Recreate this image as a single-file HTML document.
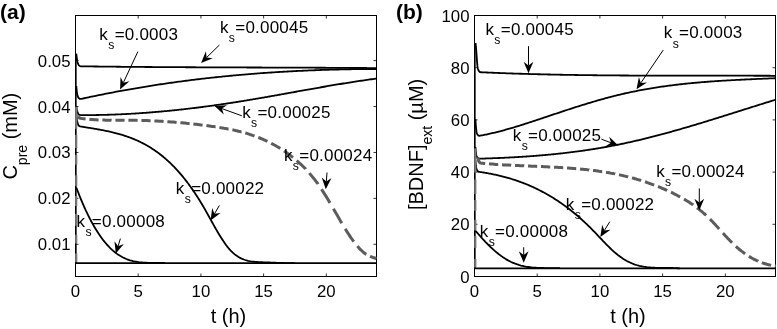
<!DOCTYPE html>
<html><head><meta charset="utf-8"><style>
html,body{margin:0;padding:0;background:#fff;}
body{width:777px;height:329px;overflow:hidden;}
svg{display:block;font-family:"Liberation Sans",sans-serif;will-change:transform;}
</style></head><body>
<svg width="777" height="329" viewBox="0 0 777 329">
<rect x="75.5" y="15.5" width="301.0" height="261.0" fill="none" stroke="#000" stroke-width="1"/>
<path d="M138.21,276.5v-3M138.21,15.5v3" stroke="#000" stroke-width="0.8"/>
<path d="M200.92,276.5v-3M200.92,15.5v3" stroke="#000" stroke-width="0.8"/>
<path d="M263.62,276.5v-3M263.62,15.5v3" stroke="#000" stroke-width="0.8"/>
<path d="M326.33,276.5v-3M326.33,15.5v3" stroke="#000" stroke-width="0.8"/>
<text x="75.50" y="296.5" font-size="16.8" text-anchor="middle">0</text>
<text x="138.21" y="296.5" font-size="16.8" text-anchor="middle">5</text>
<text x="200.92" y="296.5" font-size="16.8" text-anchor="middle">10</text>
<text x="263.62" y="296.5" font-size="16.8" text-anchor="middle">15</text>
<text x="326.33" y="296.5" font-size="16.8" text-anchor="middle">20</text>
<path d="M75.5,60.60h3M376.5,60.60h-3" stroke="#000" stroke-width="0.8"/>
<text x="70.5" y="66.60" font-size="16.8" text-anchor="end">0.05</text>
<path d="M75.5,106.53h3M376.5,106.53h-3" stroke="#000" stroke-width="0.8"/>
<text x="70.5" y="112.53" font-size="16.8" text-anchor="end">0.04</text>
<path d="M75.5,152.46h3M376.5,152.46h-3" stroke="#000" stroke-width="0.8"/>
<text x="70.5" y="158.46" font-size="16.8" text-anchor="end">0.03</text>
<path d="M75.5,198.39h3M376.5,198.39h-3" stroke="#000" stroke-width="0.8"/>
<text x="70.5" y="204.39" font-size="16.8" text-anchor="end">0.02</text>
<path d="M75.5,244.32h3M376.5,244.32h-3" stroke="#000" stroke-width="0.8"/>
<text x="70.5" y="250.32" font-size="16.8" text-anchor="end">0.01</text>
<line x1="76.1" y1="263" x2="76.1" y2="54" stroke="#000" stroke-width="1.1"/>
<path d="M76.30,53.70L76.43,54.89L76.56,56.07L76.68,57.07L76.83,58.22L76.98,59.33L77.13,60.45L77.32,61.52L77.60,62.66L77.96,63.69L78.43,64.72L79.05,65.57L79.92,66.07L81.00,66.31L82.50,66.33L84.00,66.35L85.50,66.37L87.00,66.39L88.50,66.41L90.00,66.43L91.50,66.45L93.00,66.47L94.50,66.48L96.00,66.50L97.50,66.52L99.00,66.54L100.50,66.56L102.00,66.57L103.50,66.59L105.00,66.61L106.50,66.62L108.00,66.64L109.50,66.66L111.00,66.67L112.50,66.69L114.00,66.70L115.50,66.72L117.00,66.73L118.50,66.75L120.00,66.76L121.50,66.78L123.00,66.79L124.50,66.80L126.00,66.82L127.50,66.83L129.00,66.85L130.50,66.86L132.00,66.87L133.50,66.88L135.00,66.90L136.50,66.91L138.00,66.92L139.50,66.93L141.00,66.95L142.50,66.96L144.00,66.97L145.50,66.98L147.00,66.99L148.50,67.00L150.00,67.01L151.50,67.02L153.00,67.03L154.50,67.04L156.00,67.05L157.50,67.06L159.00,67.07L160.50,67.08L162.00,67.09L163.50,67.10L165.00,67.11L166.50,67.12L168.00,67.13L169.50,67.14L171.00,67.15L172.50,67.16L174.00,67.17L175.50,67.17L177.00,67.18L178.50,67.19L180.00,67.20L181.50,67.21L183.00,67.21L184.50,67.22L186.00,67.23L187.50,67.24L189.00,67.25L190.50,67.25L192.00,67.26L193.50,67.27L195.00,67.27L196.50,67.28L198.00,67.29L199.50,67.29L201.00,67.30L202.50,67.31L204.00,67.31L205.50,67.32L207.00,67.33L208.50,67.33L210.00,67.34L211.50,67.34L213.00,67.35L214.50,67.36L216.00,67.36L217.50,67.37L219.00,67.37L220.50,67.38L222.00,67.39L223.50,67.39L225.00,67.40L226.50,67.40L228.00,67.41L229.50,67.41L231.00,67.42L232.50,67.42L234.00,67.43L235.50,67.43L237.00,67.44L238.50,67.44L240.00,67.45L241.50,67.46L243.00,67.46L244.50,67.47L246.00,67.47L247.50,67.48L249.00,67.48L250.50,67.49L252.00,67.49L253.50,67.50L255.00,67.50L256.50,67.51L257.50,67.51L258.49,67.51L259.49,67.52L260.49,67.52L261.49,67.52L262.49,67.53L263.49,67.53L264.49,67.53L265.49,67.54L266.49,67.54L267.49,67.54L268.49,67.55L269.49,67.55L270.49,67.55L271.49,67.56L272.49,67.56L273.49,67.56L274.49,67.57L275.49,67.57L276.49,67.57L277.49,67.58L278.49,67.58L279.49,67.58L280.49,67.59L281.49,67.59L282.49,67.59L283.49,67.60L284.49,67.60L285.49,67.61L286.49,67.61L287.49,67.61L288.49,67.62L289.49,67.62L290.49,67.62L291.49,67.63L292.49,67.63L293.49,67.63L294.49,67.64L295.49,67.64L296.49,67.65L297.49,67.65L298.49,67.65L299.49,67.66L300.49,67.66L301.49,67.67L302.49,67.67L303.49,67.67L304.49,67.68L305.49,67.68L306.49,67.69L307.49,67.69L308.49,67.70L309.49,67.70L310.49,67.70L311.49,67.71L312.49,67.71L313.49,67.72L314.49,67.72L315.49,67.73L316.49,67.73L317.49,67.73L318.49,67.74L319.49,67.74L320.49,67.75L321.49,67.75L322.49,67.76L323.49,67.76L324.49,67.77L325.49,67.77L326.49,67.78L327.49,67.78L328.49,67.79L329.49,67.79L330.49,67.80L331.49,67.80L332.49,67.81L333.49,67.81L334.49,67.82L335.49,67.82L336.49,67.83L337.49,67.84L338.49,67.84L339.49,67.85L340.49,67.85L341.49,67.86L342.49,67.86L343.49,67.87L344.49,67.88L345.49,67.88L346.49,67.89L347.49,67.89L348.49,67.90L349.49,67.91L350.49,67.91L351.49,67.92L352.49,67.93L353.49,67.93L354.49,67.94L355.49,67.95L356.49,67.95L357.49,67.96L358.49,67.97L359.49,67.97L360.49,67.98L361.49,67.99L362.49,67.99L363.49,68.00L364.49,68.01L365.49,68.01L366.49,68.02L367.49,68.03L368.49,68.04L369.49,68.04L370.49,68.05L371.49,68.06L372.49,68.07L373.49,68.08L374.49,68.08L375.49,68.09L376.49,68.10L376.50,68.10" fill="none" stroke="#000" stroke-width="1.8" stroke-linejoin="round"/>
<path d="M76.30,86.00L76.41,87.32L76.51,88.42L76.61,89.63L76.73,90.86L76.86,92.02L77.05,93.28L77.24,94.37L77.46,95.36L77.76,96.44L78.20,97.50L78.95,98.34L79.90,98.88L81.28,98.89L82.74,98.57L84.21,98.25L85.67,97.93L87.14,97.62L88.61,97.31L90.07,96.99L91.54,96.68L93.01,96.38L94.48,96.07L95.95,95.77L97.42,95.47L98.89,95.17L100.36,94.87L101.83,94.57L103.30,94.28L104.77,93.99L106.24,93.70L107.71,93.41L109.19,93.12L110.66,92.84L112.13,92.55L113.60,92.27L115.08,91.99L116.55,91.72L118.03,91.44L119.50,91.17L120.98,90.90L122.45,90.63L123.93,90.36L125.40,90.09L126.88,89.83L128.36,89.57L129.83,89.31L131.31,89.05L132.79,88.79L134.27,88.53L135.75,88.28L137.22,88.03L138.70,87.78L140.18,87.53L141.66,87.29L143.14,87.04L144.62,86.80L146.10,86.56L147.58,86.32L149.07,86.08L150.55,85.85L152.03,85.61L153.51,85.38L154.99,85.15L156.48,84.93L157.96,84.70L159.44,84.48L160.92,84.25L162.41,84.03L163.89,83.81L165.38,83.60L166.86,83.38L168.34,83.17L169.83,82.95L171.32,82.74L172.80,82.54L174.29,82.33L175.77,82.12L177.26,81.92L178.74,81.72L180.23,81.52L181.72,81.32L183.20,81.12L184.69,80.93L186.18,80.74L187.67,80.55L189.16,80.36L190.64,80.17L192.13,79.98L193.62,79.80L195.11,79.62L196.60,79.44L198.09,79.26L199.58,79.08L201.07,78.90L202.56,78.73L204.05,78.56L205.54,78.39L207.03,78.22L208.52,78.05L210.01,77.88L211.50,77.72L212.99,77.56L214.48,77.40L215.97,77.24L217.47,77.08L218.96,76.93L220.45,76.77L221.94,76.62L223.43,76.47L224.93,76.32L226.42,76.17L227.91,76.03L229.41,75.88L230.90,75.74L232.39,75.60L233.89,75.46L235.38,75.32L236.87,75.18L238.37,75.05L239.86,74.92L241.35,74.79L242.85,74.66L244.34,74.53L245.84,74.40L247.33,74.28L248.83,74.15L250.32,74.03L251.82,73.91L253.31,73.79L254.81,73.68L256.30,73.56L257.80,73.45L259.30,73.33L260.79,73.22L262.29,73.11L263.78,73.01L265.28,72.90L266.78,72.79L268.27,72.69L269.77,72.59L271.27,72.49L272.76,72.39L274.26,72.29L275.76,72.20L277.25,72.10L278.75,72.01L280.25,71.92L281.74,71.83L283.24,71.74L284.74,71.65L286.24,71.57L287.73,71.49L289.23,71.40L290.73,71.32L292.23,71.24L293.73,71.17L295.22,71.09L296.72,71.01L298.22,70.94L299.72,70.87L301.22,70.80L302.72,70.73L304.21,70.66L305.71,70.59L307.21,70.53L308.71,70.47L310.21,70.40L311.71,70.34L313.21,70.28L314.70,70.23L316.20,70.17L317.70,70.11L319.20,70.06L320.70,70.01L322.20,69.96L323.70,69.91L325.20,69.86L326.70,69.81L328.20,69.77L329.70,69.72L331.20,69.68L332.70,69.64L334.19,69.60L335.69,69.56L337.19,69.52L338.69,69.48L340.19,69.45L341.69,69.42L343.19,69.38L344.69,69.35L346.19,69.32L347.69,69.30L349.19,69.27L350.69,69.24L352.19,69.22L353.69,69.20L355.19,69.17L356.69,69.15L358.19,69.13L359.69,69.12L361.19,69.10L362.69,69.08L364.19,69.07L365.69,69.06L367.19,69.04L368.69,69.03L370.19,69.02L371.69,69.02L373.19,69.01L374.69,69.00L376.19,69.00L376.50,69.00" fill="none" stroke="#000" stroke-width="1.8" stroke-linejoin="round"/>
<path d="M76.30,106.00L76.49,107.19L76.67,108.30L76.87,109.47L77.09,110.55L77.37,111.60L77.71,112.69L78.18,113.74L78.90,114.54L79.87,114.92L81.10,115.10L82.60,115.11L84.10,115.11L85.60,115.11L86.60,115.11L87.60,115.10L88.60,115.10L89.60,115.09L90.60,115.09L91.60,115.08L92.60,115.07L93.60,115.06L94.60,115.04L95.60,115.03L96.60,115.02L97.60,115.00L98.60,114.98L99.60,114.96L100.60,114.94L101.60,114.92L102.60,114.90L103.60,114.88L104.60,114.85L105.60,114.83L106.60,114.80L107.60,114.77L108.60,114.74L109.60,114.71L110.60,114.68L111.59,114.64L112.59,114.61L113.59,114.57L114.59,114.54L115.59,114.50L116.59,114.46L117.59,114.42L118.59,114.38L119.59,114.33L120.59,114.29L121.59,114.24L122.59,114.20L123.58,114.15L124.58,114.10L125.58,114.05L126.58,114.00L127.58,113.94L128.58,113.89L129.58,113.84L130.57,113.78L131.57,113.72L132.57,113.66L133.57,113.60L134.57,113.54L135.57,113.48L136.56,113.42L137.56,113.36L138.56,113.29L139.56,113.22L140.56,113.16L141.55,113.09L142.55,113.02L143.55,112.95L144.55,112.88L145.54,112.80L146.54,112.73L147.54,112.66L148.53,112.58L149.53,112.50L150.53,112.42L151.53,112.34L152.52,112.26L153.52,112.18L154.52,112.10L155.51,112.02L156.51,111.93L157.51,111.85L158.50,111.76L159.50,111.67L160.49,111.58L161.49,111.49L162.49,111.40L163.48,111.31L164.48,111.22L165.47,111.13L166.47,111.03L167.46,110.94L168.46,110.84L169.45,110.74L170.45,110.64L171.44,110.54L172.44,110.44L173.43,110.34L174.43,110.24L175.42,110.13L176.42,110.03L177.41,109.92L178.41,109.82L179.40,109.71L180.40,109.60L181.39,109.49L182.38,109.38L183.38,109.27L184.37,109.16L185.36,109.05L186.36,108.93L187.35,108.82L188.34,108.70L189.34,108.58L190.33,108.47L191.32,108.35L192.32,108.23L193.31,108.11L194.30,107.99L195.29,107.87L196.29,107.74L197.28,107.62L198.27,107.49L199.26,107.37L200.26,107.24L201.25,107.11L202.24,106.99L203.23,106.86L204.22,106.73L205.21,106.60L206.21,106.46L207.20,106.33L208.19,106.20L209.18,106.06L210.17,105.93L211.16,105.79L212.15,105.66L213.14,105.52L214.13,105.38L215.12,105.24L216.11,105.10L217.10,104.96L218.09,104.82L219.08,104.68L220.07,104.53L221.06,104.39L222.05,104.25L223.04,104.10L224.03,103.95L225.02,103.81L226.01,103.66L227.00,103.51L227.99,103.36L228.97,103.21L229.96,103.06L230.95,102.91L231.94,102.76L232.93,102.60L233.92,102.45L234.90,102.30L235.89,102.14L236.88,101.99L237.87,101.83L238.86,101.67L239.84,101.51L240.83,101.35L241.82,101.19L242.80,101.03L243.79,100.87L244.78,100.71L245.77,100.55L246.75,100.39L247.74,100.22L248.73,100.06L249.71,99.90L250.70,99.73L251.68,99.56L252.67,99.40L253.66,99.23L254.64,99.06L255.63,98.90L256.61,98.73L257.60,98.56L258.58,98.39L259.57,98.22L260.56,98.05L261.54,97.88L262.53,97.71L263.51,97.54L264.50,97.36L265.48,97.19L266.47,97.02L267.45,96.85L268.44,96.67L269.42,96.50L270.41,96.33L271.39,96.15L272.38,95.98L273.36,95.80L274.34,95.63L275.33,95.45L276.31,95.28L277.30,95.10L278.28,94.92L279.27,94.75L280.25,94.57L281.24,94.40L282.22,94.22L283.20,94.04L284.19,93.87L285.17,93.69L286.16,93.51L287.14,93.33L288.13,93.16L289.11,92.98L290.09,92.80L291.08,92.62L292.06,92.45L293.05,92.27L294.52,92.00L296.00,91.74L297.47,91.47L298.95,91.20L300.43,90.94L301.90,90.67L303.38,90.41L304.86,90.14L306.33,89.88L307.81,89.61L309.29,89.35L310.76,89.09L312.24,88.82L313.72,88.56L315.19,88.30L316.67,88.04L318.15,87.78L319.62,87.52L321.10,87.26L322.58,87.00L324.06,86.75L325.54,86.49L327.01,86.23L328.49,85.98L329.97,85.73L331.45,85.48L332.93,85.22L334.41,84.98L335.89,84.73L337.37,84.48L338.85,84.23L340.33,83.99L341.81,83.75L343.29,83.51L344.77,83.27L346.25,83.03L347.73,82.79L349.21,82.56L350.69,82.32L352.17,82.09L353.66,81.86L355.14,81.63L356.62,81.41L358.10,81.18L359.59,80.96L361.07,80.74L362.56,80.52L364.04,80.30L365.52,80.09L367.01,79.88L368.49,79.67L369.98,79.46L371.47,79.26L372.95,79.06L374.44,78.86L375.93,78.66L376.50,78.58" fill="none" stroke="#000" stroke-width="1.8" stroke-linejoin="round"/>
<path d="M76.30,112.00L76.39,113.14L76.47,114.33L76.57,115.69L76.69,117.11L76.82,118.47L76.95,119.66L77.15,120.94L77.38,122.09L77.62,123.11L77.94,124.20L78.34,125.18L79.05,125.90L80.09,126.29L81.57,126.54L83.05,126.80L84.53,127.05L86.01,127.30L87.49,127.55L88.96,127.80L89.95,127.96L90.94,128.13L91.92,128.30L92.91,128.46L93.89,128.63L94.88,128.80L95.86,128.98L96.85,129.15L97.83,129.32L98.82,129.50L99.80,129.68L100.79,129.87L101.77,130.05L102.75,130.24L103.73,130.43L104.71,130.63L105.69,130.82L106.67,131.03L107.65,131.23L108.63,131.44L109.61,131.66L110.58,131.88L111.56,132.10L112.53,132.33L113.50,132.57L114.47,132.81L115.44,133.05L116.41,133.30L117.38,133.56L118.34,133.82L119.31,134.09L120.27,134.36L121.23,134.65L122.19,134.93L123.15,135.23L124.10,135.53L125.05,135.84L126.00,136.15L126.95,136.48L127.89,136.81L128.83,137.14L129.77,137.49L130.71,137.84L131.64,138.20L132.58,138.57L133.50,138.94L134.43,139.33L135.35,139.72L136.27,140.12L137.18,140.52L138.09,140.94L139.00,141.36L139.90,141.79L140.80,142.23L141.70,142.68L142.59,143.13L143.48,143.59L144.36,144.06L145.24,144.54L146.12,145.03L146.99,145.52L147.86,146.02L148.72,146.53L149.57,147.05L150.43,147.58L151.27,148.11L152.12,148.65L152.96,149.20L153.79,149.75L154.62,150.32L155.44,150.89L156.26,151.46L157.07,152.05L157.88,152.64L158.69,153.23L159.49,153.84L160.28,154.45L161.07,155.07L161.85,155.69L162.63,156.32L163.40,156.96L164.17,157.60L164.93,158.25L165.69,158.91L166.44,159.57L167.19,160.24L167.93,160.91L168.67,161.59L169.40,162.27L170.13,162.96L170.85,163.65L171.57,164.35L172.28,165.06L172.99,165.77L173.69,166.48L174.39,167.20L175.08,167.92L175.77,168.65L176.45,169.38L177.13,170.12L177.80,170.86L178.47,171.61L179.14,172.36L179.80,173.11L180.45,173.87L181.10,174.63L181.75,175.40L182.39,176.17L183.03,176.94L183.66,177.72L184.29,178.50L184.91,179.28L185.53,180.07L186.15,180.86L186.76,181.65L187.36,182.45L187.97,183.25L188.57,184.05L189.16,184.86L189.75,185.67L190.34,186.48L190.92,187.29L191.50,188.11L192.08,188.93L192.65,189.75L193.22,190.57L193.78,191.40L194.34,192.23L194.90,193.06L195.46,193.90L196.01,194.74L196.55,195.57L197.10,196.42L197.64,197.26L198.17,198.11L198.71,198.95L199.24,199.80L199.76,200.65L200.29,201.51L200.81,202.36L201.32,203.22L201.84,204.08L202.35,204.94L202.86,205.81L203.36,206.67L203.86,207.54L204.36,208.40L204.86,209.27L205.36,210.14L205.85,211.01L206.34,211.89L206.83,212.76L207.32,213.63L207.81,214.50L208.30,215.38L208.78,216.25L209.27,217.13L209.75,218.00L210.24,218.88L210.96,220.19L211.69,221.50L212.42,222.81L213.15,224.12L213.89,225.43L214.62,226.73L215.36,228.03L216.11,229.34L216.86,230.63L217.61,231.93L218.37,233.22L219.14,234.50L219.92,235.78L220.70,237.05L221.50,238.32L222.31,239.58L223.13,240.83L223.97,242.07L224.82,243.29L225.69,244.51L226.59,245.71L227.50,246.89L228.44,248.05L229.41,249.18L230.41,250.28L231.45,251.36L232.52,252.39L233.63,253.39L234.78,254.34L235.97,255.25L237.19,256.10L238.45,256.91L239.74,257.65L241.07,258.33L242.43,258.95L243.82,259.50L245.24,259.99L246.67,260.42L248.12,260.79L249.59,261.10L251.06,261.36L252.55,261.57L254.04,261.74L255.53,261.88L257.02,261.99L258.52,262.07L260.02,262.14L261.52,262.20L262.52,262.24L263.52,262.28L264.52,262.32L265.52,262.36L266.51,262.40L268.01,262.46L269.51,262.52L271.01,262.58L272.51,262.64L274.01,262.70L275.51,262.76L277.01,262.81L278.51,262.86L280.01,262.91L281.50,262.96L283.00,263.00L284.50,263.04L286.00,263.08L287.50,263.11L289.00,263.14L290.50,263.16L292.00,263.18L293.50,263.20L295.00,263.20" fill="none" stroke="#000" stroke-width="1.8" stroke-linejoin="round"/>
<path d="M76.30,187.50L76.69,188.50L77.25,189.95L77.69,191.07L78.15,192.25L78.61,193.43L79.05,194.55L79.44,195.56L79.89,196.73L80.38,197.93L80.95,199.31L81.52,200.69L82.10,202.07L82.69,203.45L83.29,204.82L83.89,206.19L84.51,207.56L85.12,208.92L85.75,210.28L86.39,211.63L87.03,212.99L87.68,214.33L88.34,215.68L89.01,217.01L89.69,218.35L90.38,219.67L91.08,221.00L91.79,222.31L92.51,223.62L93.25,224.93L93.99,226.23L94.75,227.52L95.52,228.80L96.30,230.08L97.09,231.34L97.90,232.60L98.72,233.85L99.56,235.09L100.42,236.32L101.29,237.53L102.17,238.73L103.08,239.93L104.00,241.10L104.94,242.26L105.90,243.41L106.89,244.53L107.89,245.64L108.91,246.73L109.96,247.80L111.03,248.84L112.13,249.86L113.25,250.85L114.39,251.81L115.56,252.74L116.76,253.63L117.98,254.49L119.23,255.31L120.51,256.09L121.81,256.82L123.13,257.52L124.48,258.17L125.85,258.77L127.24,259.33L128.65,259.84L130.07,260.30L131.51,260.72L132.96,261.09L134.42,261.42L135.89,261.70L137.37,261.95L138.86,262.16L140.35,262.33L141.84,262.47L143.33,262.59L144.83,262.67L146.33,262.74L147.83,262.78L149.33,262.81L150.83,262.83L152.33,262.84L153.83,262.84L154.83,262.84L156.33,262.84L157.33,262.84L158.33,262.84L159.33,262.85L160.33,262.86L161.33,262.88L162.33,262.90L163.33,262.93L164.33,262.97L165.00,263.00" fill="none" stroke="#000" stroke-width="1.8" stroke-linejoin="round"/>
<path d="M78.4,116.2L78.9,117.7L80.5,118.2L82.2,118.5L83.9,118.7L85.6,118.9M89.4,119.3L90.9,119.5L92.7,119.6L94.4,119.7L96.1,119.8L97.9,119.9L98.6,119.9M102.4,120.1L104.1,120.1L105.9,120.2L107.6,120.2L109.4,120.2L111.1,120.2L111.6,120.3M115.4,120.3L117.1,120.3L118.9,120.3L120.4,120.3L122.1,120.3L123.9,120.3L124.6,120.3M128.4,120.3L130.1,120.3L131.6,120.3L133.1,120.3L134.6,120.3L136.1,120.3L137.6,120.4M141.4,120.5L143.1,120.5L144.6,120.5L146.1,120.6L147.6,120.6L149.1,120.7L150.6,120.8M154.4,120.9L156.1,121.0L157.6,121.1L159.1,121.2L160.6,121.2L162.1,121.3L163.6,121.4M167.4,121.7L169.1,121.8L170.6,121.9L172.1,122.0L173.6,122.1L175.1,122.2L176.6,122.4L176.6,122.4M180.4,122.7L182.1,122.8L183.6,123.0L185.0,123.1L186.5,123.3L188.0,123.4L189.5,123.6L189.6,123.6M193.4,124.0L195.0,124.2L196.5,124.3L198.0,124.5L199.5,124.7L201.0,124.9L202.4,125.1L202.6,125.1M206.4,125.6L207.9,125.8L209.4,126.0L210.9,126.2L212.4,126.4L213.8,126.6L215.3,126.8L215.6,126.8M219.4,127.4L221.0,127.7L222.5,127.9L224.0,128.2L225.4,128.4L226.9,128.7L228.4,129.0L228.6,129.0M232.4,129.8L234.0,130.1L235.5,130.5L236.9,130.8L238.4,131.2L239.9,131.5L241.3,131.9L241.5,131.9M245.3,133.0L246.9,133.4L248.3,133.9L249.7,134.3L251.1,134.8L252.6,135.3L254.0,135.8L254.5,136.0M258.3,137.4L259.8,138.0L261.2,138.6L262.6,139.2L264.0,139.8L265.3,140.4L266.7,141.0L267.4,141.4M271.2,143.2L272.7,144.1L274.0,144.8L275.3,145.5L276.6,146.3L277.9,147.0L279.2,147.8L280.3,148.5M284.0,150.9L285.3,151.8L286.5,152.6L287.7,153.5L289.0,154.4L290.2,155.3L291.3,156.2L292.5,157.1L293.0,157.5M296.7,160.6L297.9,161.6L299.0,162.6L300.1,163.7L301.2,164.7L302.3,165.7L303.4,166.8L304.4,167.8L305.5,168.9L305.6,169.1M309.3,173.1L310.3,174.3L311.3,175.4L312.3,176.6L313.2,177.8L314.2,178.9L315.1,180.1L316.0,181.3L316.9,182.5L317.8,183.7L318.0,184.1M321.5,189.2L322.4,190.6L323.2,191.8L324.0,193.1L324.8,194.4L325.6,195.6L326.4,196.9L327.2,198.2L328.0,199.5L328.7,200.8L329.5,202.1L330.0,202.9M333.4,208.8L334.3,210.3L335.0,211.6L335.9,213.1L336.8,214.6L337.7,216.1L338.5,217.6L339.4,219.1L340.3,220.7L341.2,222.2L341.8,223.1M345.2,228.9L346.1,230.3L347.1,231.8L348.0,233.2L349.0,234.7L349.9,236.1L350.9,237.6L351.9,239.0L352.9,240.4L353.8,241.6M357.4,246.1L358.4,247.3L359.5,248.6L360.8,249.8L362.0,251.0L363.3,252.2L364.7,253.3L366.1,254.3L366.3,254.4M370.0,256.3L371.5,256.9L373.1,257.5L374.8,258.0L376.2,258.5L376.5,258.6" fill="none" stroke="#5c5c5c" stroke-width="3" stroke-linejoin="round"/>
<line x1="76.2" y1="106.8" x2="76.2" y2="128.8" stroke="#777" stroke-width="2.2"/>
<line x1="76.2" y1="134.8" x2="76.2" y2="148.0" stroke="#777" stroke-width="2.2"/>
<line x1="76.2" y1="154.8" x2="76.2" y2="164.7" stroke="#777" stroke-width="2.2"/>
<line x1="76.2" y1="175.3" x2="76.2" y2="185.9" stroke="#777" stroke-width="2.2"/>
<line x1="76.2" y1="196.0" x2="76.2" y2="206.1" stroke="#777" stroke-width="2.2"/>
<line x1="76.2" y1="213.8" x2="76.2" y2="225.7" stroke="#777" stroke-width="2.2"/>
<line x1="76.2" y1="234.8" x2="76.2" y2="243.5" stroke="#777" stroke-width="2.2"/>
<line x1="76.2" y1="253.5" x2="76.2" y2="262.2" stroke="#777" stroke-width="2.2"/>
<line x1="75.5" y1="263.2" x2="376.5" y2="263.2" stroke="#000" stroke-width="1.8"/>
<line x1="137.90" y1="51.60" x2="123.37" y2="82.63" stroke="#000" stroke-width="1"/>
<path d="M120.10,89.60 L120.54,77.11 L123.37,82.63 L129.42,81.26 Z" fill="#000"/>
<line x1="219.40" y1="45.00" x2="206.60" y2="57.52" stroke="#000" stroke-width="1"/>
<path d="M201.10,62.90 L205.89,51.36 L206.60,57.52 L212.75,58.36 Z" fill="#000"/>
<line x1="241.90" y1="115.80" x2="221.85" y2="108.60" stroke="#000" stroke-width="1"/>
<path d="M214.60,106.00 L227.08,105.27 L221.85,108.60 L223.77,114.50 Z" fill="#000"/>
<line x1="327.00" y1="172.50" x2="326.35" y2="181.52" stroke="#000" stroke-width="1"/>
<path d="M325.80,189.20 L321.74,177.38 L326.35,181.52 L331.51,178.08 Z" fill="#000"/>
<line x1="219.40" y1="205.40" x2="214.48" y2="213.85" stroke="#000" stroke-width="1"/>
<path d="M210.60,220.50 L212.16,208.10 L214.48,213.85 L220.62,213.03 Z" fill="#000"/>
<line x1="120.40" y1="238.60" x2="118.06" y2="246.24" stroke="#000" stroke-width="1"/>
<path d="M115.80,253.60 L114.49,241.17 L118.06,246.24 L123.86,244.04 Z" fill="#000"/>
<text x="99.36" y="40.10" font-size="17">k</text>
<text x="108.26" y="49.30" font-size="12.2">s</text>
<text x="114.66" y="40.10" font-size="17" letter-spacing="0.22">=0.0003</text>
<text x="219.96" y="33.10" font-size="17">k</text>
<text x="228.86" y="42.30" font-size="12.2">s</text>
<text x="235.26" y="33.10" font-size="17" letter-spacing="0.22">=0.00045</text>
<text x="242.16" y="118.00" font-size="17">k</text>
<text x="251.06" y="127.20" font-size="12.2">s</text>
<text x="257.46" y="118.00" font-size="17" letter-spacing="0.22">=0.00025</text>
<text x="283.96" y="160.60" font-size="17">k</text>
<text x="292.86" y="169.80" font-size="12.2">s</text>
<text x="299.26" y="160.60" font-size="17" letter-spacing="0.22">=0.00024</text>
<text x="175.86" y="193.80" font-size="17">k</text>
<text x="184.76" y="203.00" font-size="12.2">s</text>
<text x="191.16" y="193.80" font-size="17" letter-spacing="0.22">=0.00022</text>
<text x="76.56" y="226.50" font-size="17">k</text>
<text x="85.46" y="235.70" font-size="12.2">s</text>
<text x="91.86" y="226.50" font-size="17" letter-spacing="0.22">=0.00008</text>
<rect x="474.5" y="15.5" width="301.0" height="261.0" fill="none" stroke="#000" stroke-width="1"/>
<path d="M537.21,276.5v-3M537.21,15.5v3" stroke="#000" stroke-width="0.8"/>
<path d="M599.92,276.5v-3M599.92,15.5v3" stroke="#000" stroke-width="0.8"/>
<path d="M662.62,276.5v-3M662.62,15.5v3" stroke="#000" stroke-width="0.8"/>
<path d="M725.33,276.5v-3M725.33,15.5v3" stroke="#000" stroke-width="0.8"/>
<text x="474.50" y="296.5" font-size="16.8" text-anchor="middle">0</text>
<text x="537.21" y="296.5" font-size="16.8" text-anchor="middle">5</text>
<text x="599.92" y="296.5" font-size="16.8" text-anchor="middle">10</text>
<text x="662.62" y="296.5" font-size="16.8" text-anchor="middle">15</text>
<text x="725.33" y="296.5" font-size="16.8" text-anchor="middle">20</text>
<path d="M474.5,276.50h3M775.5,276.50h-3" stroke="#000" stroke-width="0.8"/>
<text x="469.5" y="282.50" font-size="16.8" text-anchor="end">0</text>
<path d="M474.5,224.30h3M775.5,224.30h-3" stroke="#000" stroke-width="0.8"/>
<text x="469.5" y="230.30" font-size="16.8" text-anchor="end">20</text>
<path d="M474.5,172.10h3M775.5,172.10h-3" stroke="#000" stroke-width="0.8"/>
<text x="469.5" y="178.10" font-size="16.8" text-anchor="end">40</text>
<path d="M474.5,119.90h3M775.5,119.90h-3" stroke="#000" stroke-width="0.8"/>
<text x="469.5" y="125.90" font-size="16.8" text-anchor="end">60</text>
<path d="M474.5,67.70h3M775.5,67.70h-3" stroke="#000" stroke-width="0.8"/>
<text x="469.5" y="73.70" font-size="16.8" text-anchor="end">80</text>
<path d="M474.5,15.50h3M775.5,15.50h-3" stroke="#000" stroke-width="0.8"/>
<text x="469.5" y="21.50" font-size="16.8" text-anchor="end">100</text>
<line x1="475.1" y1="268" x2="475.1" y2="43" stroke="#000" stroke-width="1.1"/>
<path d="M475.60,43.00L475.71,44.23L475.80,45.25L475.90,46.39L476.00,47.61L476.10,48.83L476.20,50.00L476.29,51.15L476.38,52.34L476.47,53.56L476.56,54.79L476.65,56.01L476.74,57.22L476.83,58.39L476.91,59.58L476.99,60.77L477.07,61.96L477.16,63.10L477.25,64.19L477.36,65.19L477.52,66.38L477.70,67.46L477.94,68.65L478.21,69.67L478.62,70.67L479.26,71.49L480.00,72.20L481.00,72.25L482.50,72.31L484.00,72.38L485.49,72.45L486.99,72.51L488.49,72.58L489.99,72.64L491.49,72.70L492.99,72.76L494.49,72.82L495.99,72.88L497.48,72.94L498.98,73.00L500.48,73.06L501.98,73.11L503.48,73.17L504.98,73.22L506.48,73.28L507.98,73.33L509.48,73.38L510.98,73.43L512.47,73.48L513.97,73.53L515.47,73.58L516.97,73.63L518.47,73.68L519.97,73.73L521.47,73.77L522.97,73.82L524.47,73.86L525.97,73.91L527.47,73.95L528.97,73.99L530.47,74.03L531.97,74.08L533.46,74.12L534.96,74.16L536.46,74.20L537.96,74.23L539.46,74.27L540.96,74.31L542.46,74.34L543.96,74.38L545.46,74.42L546.96,74.45L548.46,74.48L549.96,74.52L551.46,74.55L552.96,74.58L554.46,74.61L555.96,74.64L557.46,74.67L558.96,74.70L560.46,74.73L561.96,74.76L563.46,74.79L564.96,74.82L566.46,74.84L567.96,74.87L569.46,74.89L570.96,74.92L572.46,74.94L573.96,74.97L575.46,74.99L576.96,75.01L578.46,75.04L579.95,75.06L581.45,75.08L582.95,75.10L584.45,75.12L585.95,75.14L587.45,75.16L588.95,75.18L590.45,75.20L591.95,75.21L593.45,75.23L594.95,75.25L596.45,75.27L597.95,75.28L599.45,75.30L600.95,75.31L602.45,75.33L603.95,75.34L605.45,75.36L606.95,75.37L608.45,75.38L609.95,75.40L611.45,75.41L612.95,75.42L614.45,75.43L615.95,75.44L617.45,75.45L618.95,75.47L620.45,75.48L621.95,75.49L623.45,75.50L624.95,75.50L626.45,75.51L627.95,75.52L629.45,75.53L630.95,75.54L632.45,75.55L633.95,75.55L635.45,75.56L636.95,75.57L638.45,75.57L639.95,75.58L641.45,75.59L642.95,75.59L644.45,75.60L645.95,75.60L647.45,75.61L648.95,75.61L650.45,75.62L651.95,75.62L653.45,75.63L654.95,75.63L656.45,75.63L657.95,75.64L659.45,75.64L660.95,75.64L662.45,75.65L663.95,75.65L665.45,75.65L666.95,75.66L668.45,75.66L669.95,75.66L671.45,75.66L672.95,75.66L674.45,75.67L675.95,75.67L677.45,75.67L678.95,75.67L680.45,75.67L681.95,75.67L683.45,75.67L684.95,75.67L686.45,75.68L687.95,75.68L689.45,75.68L690.95,75.68L692.45,75.68L693.95,75.68L695.45,75.68L696.95,75.68L698.45,75.68L699.95,75.68L701.45,75.68L702.95,75.68L704.45,75.68L705.95,75.68L706.95,75.68L707.95,75.68L708.95,75.68L709.95,75.68L710.95,75.68L711.95,75.68L712.95,75.68L713.95,75.68L714.95,75.68L715.95,75.68L716.95,75.69L717.95,75.69L718.95,75.69L719.95,75.69L720.95,75.69L721.95,75.69L722.95,75.69L723.95,75.69L724.95,75.69L725.95,75.69L726.95,75.69L727.95,75.69L728.95,75.69L729.95,75.69L730.95,75.69L731.95,75.69L732.95,75.69L733.95,75.69L734.95,75.70L735.95,75.70L736.95,75.70L737.95,75.70L738.95,75.70L739.95,75.70L740.95,75.70L741.95,75.70L742.95,75.71L743.95,75.71L744.95,75.71L745.95,75.71L746.95,75.71L747.95,75.71L748.95,75.72L749.95,75.72L750.95,75.72L751.95,75.72L752.95,75.72L753.95,75.73L754.95,75.73L755.95,75.73L756.95,75.73L757.95,75.74L758.95,75.74L759.95,75.74L760.95,75.74L761.95,75.75L762.95,75.75L763.95,75.75L764.95,75.76L765.95,75.76L766.95,75.76L767.95,75.77L768.95,75.77L769.95,75.77L770.95,75.78L771.95,75.78L772.95,75.79L773.95,75.79L774.95,75.79L775.95,75.80L776.00,75.80" fill="none" stroke="#000" stroke-width="1.8" stroke-linejoin="round"/>
<path d="M475.40,119.30L475.49,120.53L475.56,121.56L475.64,122.69L475.73,123.87L475.81,125.00L475.90,126.00L476.01,127.22L476.12,128.41L476.23,129.54L476.36,130.58L476.54,131.71L476.77,132.80L477.08,133.80L477.53,134.71L478.24,135.45L479.29,135.83L480.28,135.65L481.26,135.47L482.24,135.29L483.23,135.10L484.21,134.90L485.19,134.71L486.17,134.51L487.15,134.30L488.12,134.09L489.10,133.88L490.08,133.66L491.05,133.44L492.03,133.21L493.00,132.99L493.97,132.76L494.95,132.52L495.92,132.28L496.89,132.04L497.86,131.80L498.83,131.55L499.80,131.30L500.76,131.05L501.73,130.79L502.70,130.53L503.66,130.27L504.63,130.01L505.59,129.74L506.56,129.48L507.52,129.20L508.48,128.93L509.44,128.65L510.40,128.38L511.36,128.10L512.32,127.81L513.28,127.53L514.24,127.24L515.20,126.96L516.15,126.66L517.11,126.37L518.07,126.08L519.02,125.78L519.98,125.49L520.93,125.19L521.89,124.89L522.84,124.59L523.79,124.29L524.75,123.98L525.70,123.68L526.65,123.37L527.60,123.06L528.55,122.75L529.50,122.44L530.45,122.13L531.41,121.82L532.36,121.51L533.31,121.20L534.25,120.88L535.20,120.57L536.15,120.25L537.10,119.94L538.05,119.62L539.00,119.30L539.95,118.99L540.90,118.67L541.84,118.35L542.79,118.03L543.74,117.72L544.69,117.40L545.64,117.08L547.06,116.60L548.48,116.13L549.90,115.65L551.32,115.17L552.75,114.70L554.17,114.22L555.59,113.74L557.02,113.27L558.44,112.80L559.86,112.32L561.29,111.85L562.71,111.38L564.14,110.91L565.56,110.45L566.99,109.98L568.41,109.51L569.84,109.05L571.26,108.59L572.69,108.13L574.12,107.67L575.55,107.21L576.98,106.76L578.41,106.30L579.84,105.85L581.27,105.41L582.70,104.96L584.14,104.52L585.57,104.08L587.00,103.64L588.44,103.20L589.87,102.77L591.31,102.34L592.75,101.91L594.19,101.49L595.63,101.07L597.07,100.65L598.51,100.24L599.95,99.83L601.40,99.42L602.84,99.02L604.29,98.62L605.73,98.23L607.18,97.84L608.63,97.45L610.08,97.07L611.53,96.69L612.99,96.32L614.44,95.95L615.89,95.58L617.35,95.22L618.81,94.87L620.27,94.52L621.73,94.18L623.19,93.84L624.65,93.50L626.11,93.18L627.58,92.85L629.04,92.53L630.51,92.22L631.98,91.91L633.45,91.61L634.92,91.31L636.39,91.02L637.86,90.73L639.33,90.44L640.81,90.16L642.28,89.89L643.75,89.62L645.23,89.35L646.71,89.09L648.19,88.84L649.66,88.58L651.14,88.34L652.62,88.09L654.10,87.86L655.59,87.62L657.07,87.39L658.55,87.16L660.03,86.94L661.52,86.73L663.00,86.51L664.49,86.30L665.97,86.10L667.46,85.89L668.95,85.70L670.43,85.50L671.92,85.31L673.41,85.13L674.90,84.94L676.39,84.76L677.88,84.59L679.37,84.42L680.86,84.25L682.35,84.08L683.84,83.92L685.33,83.76L686.82,83.61L688.32,83.46L689.81,83.31L691.30,83.16L692.79,83.02L694.29,82.88L695.78,82.74L697.28,82.61L698.77,82.48L700.26,82.35L701.76,82.22L703.25,82.10L704.75,81.98L706.24,81.86L707.74,81.75L709.24,81.63L710.73,81.52L712.23,81.41L713.72,81.31L715.22,81.20L716.72,81.10L718.21,81.00L719.71,80.91L721.21,80.81L722.70,80.72L724.20,80.63L725.70,80.54L727.20,80.45L728.69,80.36L730.19,80.28L731.69,80.19L733.19,80.11L734.68,80.03L736.18,79.95L737.68,79.88L739.18,79.80L740.68,79.73L742.18,79.65L743.67,79.58L745.17,79.51L746.67,79.44L748.17,79.37L749.67,79.30L751.17,79.24L752.66,79.17L754.16,79.10L755.66,79.04L757.16,78.97L758.66,78.91L760.16,78.85L761.66,78.78L763.15,78.72L764.65,78.66L766.15,78.60L767.65,78.54L769.15,78.47L770.65,78.41L772.15,78.35L773.15,78.31L774.14,78.27L775.14,78.23L776.00,78.19" fill="none" stroke="#000" stroke-width="1.8" stroke-linejoin="round"/>
<path d="M475.40,147.00L475.50,148.13L475.62,149.41L475.72,150.47L475.82,151.51L475.96,152.74L476.14,153.93L476.32,154.97L476.57,156.04L476.91,157.08L477.45,157.99L478.50,158.70L479.50,158.67L480.50,158.64L481.50,158.61L482.50,158.59L483.50,158.56L484.50,158.53L485.50,158.50L486.50,158.46L487.50,158.43L488.50,158.40L489.49,158.36L490.49,158.33L491.49,158.29L492.49,158.26L493.49,158.22L494.49,158.18L495.49,158.14L496.49,158.11L497.49,158.07L498.49,158.02L499.49,157.98L500.49,157.94L501.49,157.90L502.48,157.85L503.48,157.81L504.48,157.76L505.48,157.71L506.48,157.66L507.48,157.61L508.48,157.56L509.48,157.51L510.48,157.46L511.47,157.41L512.47,157.36L513.47,157.30L514.47,157.24L515.47,157.19L516.47,157.13L517.46,157.07L518.46,157.01L519.46,156.95L520.46,156.89L521.46,156.83L522.46,156.76L523.45,156.70L524.45,156.63L525.45,156.57L526.45,156.50L527.44,156.43L528.44,156.36L529.44,156.29L530.44,156.22L531.43,156.14L532.43,156.07L533.43,155.99L534.43,155.92L535.42,155.84L536.42,155.76L537.42,155.68L538.41,155.60L539.41,155.52L540.41,155.43L541.40,155.35L542.40,155.26L543.39,155.18L544.39,155.09L545.39,155.00L546.38,154.91L547.38,154.82L548.37,154.72L549.37,154.63L550.37,154.53L551.36,154.44L552.36,154.34L553.35,154.24L554.35,154.14L555.34,154.04L556.34,153.93L557.33,153.83L558.32,153.72L559.32,153.62L560.31,153.51L561.31,153.40L562.30,153.29L563.29,153.17L564.29,153.06L565.28,152.95L566.27,152.83L567.27,152.71L568.26,152.59L569.25,152.47L570.25,152.35L571.24,152.23L572.23,152.10L573.22,151.98L574.21,151.85L575.21,151.72L576.20,151.59L577.19,151.46L578.18,151.32L579.17,151.19L580.16,151.05L581.15,150.92L582.14,150.78L583.13,150.64L584.12,150.50L585.11,150.35L586.10,150.21L587.09,150.06L588.08,149.91L589.07,149.76L590.06,149.61L591.05,149.46L592.03,149.31L593.02,149.15L594.01,148.99L595.00,148.84L595.99,148.68L596.97,148.51L597.96,148.35L598.95,148.19L599.93,148.02L600.92,147.85L601.90,147.68L602.89,147.51L603.87,147.34L604.86,147.16L605.84,146.99L606.83,146.81L607.81,146.63L608.79,146.45L609.78,146.27L610.76,146.09L611.74,145.90L612.73,145.71L613.71,145.52L614.69,145.33L615.67,145.14L616.65,144.95L617.63,144.75L618.61,144.55L619.59,144.36L620.57,144.16L621.55,143.95L622.53,143.75L623.51,143.54L624.49,143.34L625.47,143.13L626.44,142.92L627.42,142.71L628.40,142.49L629.38,142.28L630.35,142.06L631.33,141.84L632.30,141.62L633.28,141.40L634.25,141.18L635.23,140.95L636.20,140.73L637.18,140.50L638.15,140.27L639.12,140.04L640.10,139.81L641.07,139.58L642.04,139.35L643.01,139.11L643.99,138.87L644.96,138.64L645.93,138.40L646.90,138.16L647.87,137.91L648.84,137.67L649.81,137.43L650.78,137.18L651.75,136.93L652.72,136.69L653.68,136.44L654.65,136.19L655.62,135.94L656.59,135.68L657.56,135.43L658.52,135.17L659.49,134.92L660.46,134.66L661.42,134.40L662.39,134.14L663.35,133.88L664.32,133.62L665.28,133.36L666.25,133.10L667.21,132.83L668.18,132.57L669.14,132.30L670.11,132.03L671.07,131.77L672.03,131.50L673.00,131.23L673.96,130.96L674.92,130.69L675.88,130.41L676.85,130.14L677.81,129.87L678.77,129.59L679.73,129.32L680.69,129.04L681.65,128.76L682.61,128.48L683.57,128.20L684.53,127.93L685.49,127.64L686.45,127.36L687.41,127.08L688.37,126.80L689.33,126.52L690.29,126.23L691.25,125.95L692.21,125.66L693.17,125.38L694.12,125.09L695.08,124.80L696.04,124.52L697.00,124.23L697.95,123.94L698.91,123.65L699.87,123.36L700.83,123.07L701.78,122.78L702.74,122.49L703.70,122.20L704.65,121.91L705.61,121.61L706.56,121.32L707.52,121.03L708.48,120.73L709.43,120.44L710.39,120.14L711.34,119.85L712.30,119.55L713.25,119.26L714.21,118.96L715.16,118.66L716.12,118.37L717.07,118.07L718.03,117.77L718.98,117.47L719.94,117.17L720.89,116.88L721.85,116.58L722.80,116.28L723.76,115.98L724.71,115.68L725.66,115.38L726.62,115.08L727.57,114.78L728.53,114.48L729.48,114.18L730.43,113.88L731.39,113.58L732.34,113.28L733.29,112.98L734.25,112.68L735.20,112.38L736.15,112.08L737.11,111.77L738.06,111.47L739.02,111.17L739.97,110.87L740.92,110.57L742.35,110.12L743.78,109.67L745.21,109.21L746.64,108.76L748.07,108.31L749.50,107.86L750.94,107.41L752.37,106.96L753.80,106.51L755.23,106.06L756.66,105.61L758.09,105.16L759.52,104.71L760.95,104.26L762.38,103.81L763.82,103.37L765.25,102.92L766.68,102.47L768.11,102.03L769.54,101.58L770.98,101.14L772.41,100.70L773.84,100.26L775.28,99.81L776.00,99.59" fill="none" stroke="#000" stroke-width="1.8" stroke-linejoin="round"/>
<path d="M475.40,160.00L475.50,161.13L475.62,162.41L475.72,163.47L475.82,164.51L475.96,165.74L476.14,166.93L476.32,167.97L476.57,169.04L476.91,170.08L477.45,170.99L478.50,171.77L479.49,171.91L480.48,172.05L481.46,172.20L482.45,172.35L483.44,172.51L484.43,172.67L485.42,172.83L486.40,173.00L487.39,173.17L488.37,173.35L489.35,173.53L490.34,173.72L491.32,173.91L492.30,174.10L493.28,174.30L494.26,174.51L495.24,174.71L496.22,174.93L497.19,175.15L498.17,175.37L499.14,175.60L500.11,175.83L501.09,176.07L502.06,176.31L503.03,176.56L503.99,176.81L504.96,177.07L505.93,177.33L506.89,177.60L507.85,177.87L508.81,178.15L509.77,178.43L510.73,178.72L511.69,179.01L512.64,179.31L513.60,179.61L514.55,179.92L515.50,180.23L516.45,180.55L517.39,180.88L518.34,181.21L519.28,181.54L520.22,181.88L521.16,182.23L522.10,182.58L523.03,182.93L523.96,183.29L524.90,183.66L525.82,184.03L526.75,184.41L527.68,184.79L528.60,185.18L529.52,185.57L530.44,185.97L531.35,186.37L532.27,186.78L533.18,187.19L534.09,187.61L534.99,188.04L535.90,188.47L536.80,188.90L537.70,189.34L538.59,189.79L539.49,190.23L540.38,190.69L541.27,191.15L542.15,191.61L543.04,192.08L543.92,192.56L544.80,193.04L545.67,193.52L546.55,194.01L547.42,194.51L548.28,195.01L549.15,195.51L550.01,196.02L550.87,196.53L551.72,197.05L552.58,197.57L553.43,198.10L554.28,198.63L555.12,199.17L555.96,199.71L556.80,200.26L557.64,200.81L558.47,201.36L559.30,201.92L560.13,202.49L560.95,203.05L561.77,203.63L562.59,204.20L563.41,204.78L564.22,205.37L565.03,205.96L565.83,206.55L566.64,207.15L567.44,207.75L568.24,208.35L569.03,208.96L569.82,209.57L570.61,210.19L571.40,210.81L572.18,211.44L572.96,212.06L573.73,212.70L574.51,213.33L575.28,213.97L576.04,214.61L576.81,215.26L577.57,215.91L578.33,216.56L579.08,217.22L579.84,217.88L580.59,218.54L581.33,219.21L582.08,219.88L582.82,220.55L583.56,221.23L584.29,221.91L585.02,222.59L585.75,223.28L586.48,223.97L587.20,224.66L587.92,225.35L588.64,226.05L589.35,226.75L590.07,227.45L590.78,228.16L591.48,228.87L592.18,229.58L592.89,230.30L593.58,231.02L594.28,231.73L594.97,232.46L595.66,233.18L596.35,233.90L597.04,234.63L597.73,235.36L598.42,236.08L599.10,236.81L599.79,237.54L600.82,238.63L601.85,239.72L602.88,240.81L603.92,241.89L604.96,242.97L606.00,244.04L607.05,245.11L608.11,246.18L609.17,247.23L610.25,248.27L611.33,249.31L612.43,250.33L613.54,251.33L614.66,252.32L615.80,253.29L616.96,254.24L618.13,255.17L619.32,256.07L620.53,256.95L621.76,257.81L623.01,258.63L624.27,259.43L625.56,260.19L626.86,260.93L628.19,261.63L629.53,262.29L630.89,262.91L632.27,263.49L633.66,264.04L635.07,264.54L636.50,265.00L637.94,265.42L639.39,265.80L640.85,266.14L642.31,266.45L643.79,266.72L645.27,266.95L646.75,267.16L648.24,267.33L649.73,267.48L651.23,267.60L652.73,267.70L654.22,267.77L655.72,267.83L657.22,267.88L658.72,267.91L660.22,267.93L661.72,267.94L663.22,267.94L664.72,267.95L665.72,267.95L666.72,267.95L667.72,267.95L668.72,267.96L669.72,267.97L670.72,267.98L671.72,268.00L672.72,268.02L673.72,268.05L674.72,268.08L675.72,268.12L676.72,268.17L677.72,268.23L678.71,268.30L679.71,268.38L680.00,268.40" fill="none" stroke="#000" stroke-width="1.8" stroke-linejoin="round"/>
<path d="M475.20,230.50L475.88,231.25L476.63,232.09L477.32,232.87L478.30,234.01L479.28,235.14L480.27,236.27L481.26,237.39L482.27,238.50L483.28,239.60L484.30,240.70L485.33,241.79L486.37,242.87L487.42,243.94L488.47,245.00L489.54,246.04L490.62,247.08L491.71,248.11L492.82,249.12L493.93,250.12L495.06,251.10L496.20,252.07L497.36,253.02L498.53,253.96L499.71,254.87L500.91,255.77L502.13,256.64L503.36,257.49L504.61,258.31L505.88,259.10L507.17,259.86L508.47,260.60L509.80,261.29L511.14,261.95L512.50,262.58L513.88,263.16L515.27,263.71L516.68,264.22L518.10,264.69L519.53,265.13L520.98,265.53L522.43,265.89L523.89,266.22L525.36,266.51L526.84,266.77L528.32,267.00L529.81,267.20L531.30,267.38L532.79,267.53L534.28,267.65L535.78,267.75L537.28,267.83L538.78,267.90L540.28,267.95L541.77,267.99L543.27,268.01L544.77,268.03L546.27,268.04L547.77,268.04L549.27,268.05L550.27,268.05L551.27,268.05L552.27,268.06L553.27,268.06L554.27,268.07L555.27,268.08L556.27,268.10L557.27,268.12L558.27,268.14L559.27,268.17L560.00,268.20" fill="none" stroke="#000" stroke-width="1.8" stroke-linejoin="round"/>
<path d="M477.8,157.2L478.1,158.9L478.5,160.5L479.2,162.0L480.5,163.0L482.2,163.2L484.0,163.4L485.2,163.5M489.0,163.8L490.7,164.0L492.5,164.1L494.2,164.2L495.9,164.4L497.7,164.5L498.2,164.5M502.0,164.8L503.7,164.9L505.4,165.0L507.2,165.1L508.9,165.1L510.7,165.2L511.2,165.3M515.0,165.5L516.7,165.5L518.4,165.6L520.2,165.7L521.9,165.8L523.7,165.8L524.2,165.9M528.0,166.0L529.6,166.1L531.4,166.2L532.9,166.2L534.4,166.3L535.9,166.3L537.2,166.4M541.0,166.6L542.6,166.6L544.1,166.7L545.6,166.8L547.1,166.8L548.6,166.9L550.1,167.0L550.2,167.0M554.0,167.2L555.6,167.3L557.1,167.3L558.6,167.4L560.1,167.5L561.6,167.6L563.1,167.7L563.2,167.7M567.0,168.0L568.6,168.1L570.1,168.2L571.6,168.3L573.1,168.4L574.6,168.5L576.1,168.7L576.2,168.7M580.0,169.0L581.5,169.2L583.0,169.3L584.5,169.5L586.0,169.6L587.5,169.8L589.0,169.9L589.2,170.0M593.0,170.4L594.7,170.6L596.2,170.8L597.7,171.0L599.2,171.3L600.7,171.5L602.1,171.7L602.2,171.7M606.0,172.3L607.6,172.6L609.0,172.8L610.5,173.1L612.0,173.4L613.5,173.6L614.9,173.9L615.2,174.0M619.0,174.8L620.6,175.1L622.0,175.4L623.5,175.8L625.0,176.1L626.4,176.5L627.9,176.8L628.2,176.9M632.0,177.9L633.7,178.3L635.1,178.7L636.6,179.2L638.0,179.6L639.4,180.0L640.9,180.4L641.2,180.5M645.0,181.8L646.6,182.3L648.0,182.8L649.4,183.3L650.8,183.8L652.2,184.3L653.7,184.8L654.2,185.0M658.0,186.5L659.5,187.1L660.9,187.7L662.2,188.3L663.6,188.9L665.0,189.5L666.4,190.1L667.2,190.5M671.0,192.2L672.5,192.9L673.8,193.6L675.2,194.3L676.5,195.0L677.8,195.7L679.1,196.4L680.2,196.9M684.0,199.1L685.5,199.9L686.7,200.7L688.0,201.5L689.3,202.3L690.5,203.2L691.8,204.0L693.0,204.8L693.2,205.0M697.0,207.7L698.3,208.7L699.4,209.6L700.6,210.6L701.8,211.5L702.9,212.5L704.0,213.5L705.2,214.5L706.2,215.4M710.0,219.1L711.1,220.2L712.1,221.3L713.2,222.4L714.2,223.5L715.2,224.6L716.2,225.7L717.3,226.8L718.3,227.9L719.2,228.9M722.9,233.1L724.0,234.2L725.1,235.5L726.3,236.8L727.5,238.1L728.7,239.3L729.9,240.6L731.1,241.8L732.1,242.8M735.9,246.4L737.1,247.5L738.5,248.6L739.8,249.8L741.2,250.9L742.6,251.9L744.0,253.0L745.1,253.8M748.9,256.3L750.2,257.1L751.7,258.0L753.2,258.8L754.8,259.6L756.4,260.4L758.0,261.1L758.1,261.2M761.9,262.7L763.6,263.3L765.2,263.8L766.9,264.3L768.6,264.7L770.3,265.1L771.1,265.3M774.9,265.9L776.0,266.0" fill="none" stroke="#5c5c5c" stroke-width="3" stroke-linejoin="round"/>
<line x1="475.3" y1="148.3" x2="475.3" y2="172.6" stroke="#777" stroke-width="2.2"/>
<line x1="475.3" y1="179.4" x2="475.3" y2="194.0" stroke="#777" stroke-width="2.2"/>
<line x1="475.3" y1="200.0" x2="475.3" y2="210.8" stroke="#777" stroke-width="2.2"/>
<line x1="475.3" y1="219.8" x2="475.3" y2="230.5" stroke="#777" stroke-width="2.2"/>
<line x1="475.3" y1="236.0" x2="475.3" y2="247.9" stroke="#777" stroke-width="2.2"/>
<line x1="475.3" y1="259.0" x2="475.3" y2="267.5" stroke="#777" stroke-width="2.2"/>
<line x1="474.5" y1="268.4" x2="775.5" y2="268.4" stroke="#000" stroke-width="1.8"/>
<line x1="528.50" y1="46.20" x2="528.50" y2="65.50" stroke="#000" stroke-width="1"/>
<path d="M528.50,73.20 L523.60,61.70 L528.50,65.50 L533.40,61.70 Z" fill="#000"/>
<line x1="663.20" y1="50.10" x2="640.83" y2="82.94" stroke="#000" stroke-width="1"/>
<path d="M636.50,89.30 L638.92,77.04 L640.83,82.94 L647.02,82.55 Z" fill="#000"/>
<line x1="601.40" y1="139.20" x2="611.07" y2="142.75" stroke="#000" stroke-width="1"/>
<path d="M618.30,145.40 L605.82,146.04 L611.07,142.75 L609.19,136.84 Z" fill="#000"/>
<line x1="699.30" y1="188.40" x2="699.30" y2="202.50" stroke="#000" stroke-width="1"/>
<path d="M699.30,210.20 L694.40,198.70 L699.30,202.50 L704.20,198.70 Z" fill="#000"/>
<line x1="609.80" y1="221.70" x2="604.36" y2="230.46" stroke="#000" stroke-width="1"/>
<path d="M600.30,237.00 L602.20,224.65 L604.36,230.46 L610.53,229.81 Z" fill="#000"/>
<line x1="523.70" y1="247.30" x2="523.70" y2="255.10" stroke="#000" stroke-width="1"/>
<path d="M523.70,262.80 L518.80,251.30 L523.70,255.10 L528.60,251.30 Z" fill="#000"/>
<text x="485.46" y="34.60" font-size="17">k</text>
<text x="494.36" y="43.80" font-size="12.2">s</text>
<text x="500.76" y="34.60" font-size="17" letter-spacing="0.22">=0.00045</text>
<text x="663.76" y="38.30" font-size="17">k</text>
<text x="672.66" y="47.50" font-size="12.2">s</text>
<text x="679.06" y="38.30" font-size="17" letter-spacing="0.22">=0.0003</text>
<text x="512.76" y="141.00" font-size="17">k</text>
<text x="521.66" y="150.20" font-size="12.2">s</text>
<text x="528.06" y="141.00" font-size="17" letter-spacing="0.22">=0.00025</text>
<text x="656.16" y="176.70" font-size="17">k</text>
<text x="665.06" y="185.90" font-size="12.2">s</text>
<text x="671.46" y="176.70" font-size="17" letter-spacing="0.22">=0.00024</text>
<text x="565.86" y="209.80" font-size="17">k</text>
<text x="574.76" y="219.00" font-size="12.2">s</text>
<text x="581.16" y="209.80" font-size="17" letter-spacing="0.22">=0.00022</text>
<text x="479.76" y="236.50" font-size="17">k</text>
<text x="488.66" y="245.70" font-size="12.2">s</text>
<text x="495.06" y="236.50" font-size="17" letter-spacing="0.22">=0.00008</text>
<text x="0" y="18.9" font-size="21" font-weight="bold">(a)</text>
<text x="396" y="18.9" font-size="21" font-weight="bold">(b)</text>
<text x="210.7" y="322.7" font-size="20">t (h)</text>
<text x="610.2" y="322.7" font-size="20">t (h)</text>
<text transform="translate(17.2,179.6) rotate(-90)" font-size="20">C<tspan font-size="14" dy="9.3">pre</tspan><tspan dy="-9.3"> (mM)</tspan></text>
<text transform="translate(422.6,210.1) rotate(-90)" font-size="20">[BDNF]<tspan font-size="14" dy="9.8">ext</tspan><tspan dy="-9.8"> (µM)</tspan></text>
</svg>
</body></html>
